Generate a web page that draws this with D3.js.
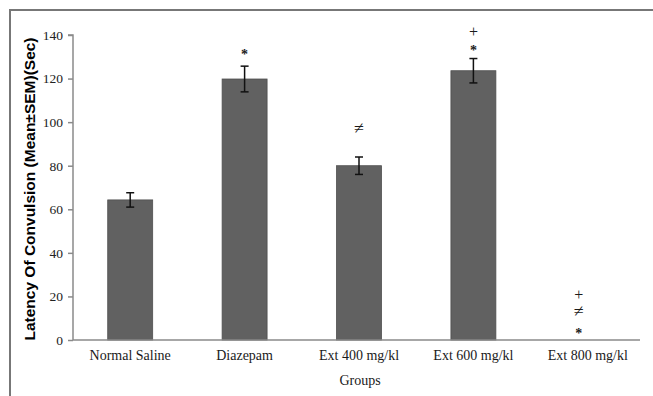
<!DOCTYPE html>
<html>
<head>
<meta charset="utf-8">
<script src="https://cdn.jsdelivr.net/npm/d3@7"></script>
<style>
  body { margin: 0; background: #fff; }
  svg { display: block; }
</style>
</head>
<body>
<div id="chart"></div>
<script>
// data
const groups = ['Normal Saline', 'Diazepam', 'Ext 400 mg/kl', 'Ext 600 mg/kl', 'Ext 800 mg/kl'];
const means = [64.3, 119.8, 80, 123.6, 0];
const sems = [3.3, 5.9, 4, 5.6, 0];
const marks = [[], ['*'], ['≠'], ['+', '*'], ['+', '≠', '*']]; // top to bottom
const yTicks = [0, 20, 40, 60, 80, 100, 120, 140];

const W = 653, H = 396;
const margin = { left: 73, bottom: 56, top: 35, right: 8 };
const serif = '"Liberation Serif", "Times New Roman", serif';

const svg = d3.select('#chart').append('svg')
  .attr('width', W)
  .attr('height', H);

// outer frame (only top + left edges visible)
svg.append('path')
  .attr('d', `M10,${H}V10H${W}`)
  .attr('fill', 'none')
  .attr('stroke', '#777')
  .attr('stroke-width', 2);

const x = d3.scaleBand()
  .domain(groups)
  .range([margin.left, W - margin.right])
  .paddingInner(0.607)
  .paddingOuter(0.3035);

const y = d3.scaleLinear()
  .domain([0, 140])
  .range([H - margin.bottom, margin.top]);

// y axis
const yAxis = svg.append('g')
  .attr('transform', `translate(${margin.left},0)`)
  .call(d3.axisLeft(y).tickValues(yTicks).tickSize(5).tickPadding(5));
yAxis.select('.domain').attr('stroke', '#8a8a8a').attr('stroke-width', 1.5)
  .attr('d', `M-5,${y(140)}H0V${y(0)}`);
yAxis.selectAll('.tick line').attr('stroke', '#8a8a8a').attr('stroke-width', 1.5);
yAxis.selectAll('.tick text')
  .attr('fill', '#222')
  .style('font-family', serif)
  .style('font-size', '13.5px');

// bars
svg.append('g').selectAll('rect')
  .data(groups)
  .join('rect')
  .attr('x', d => x(d))
  .attr('y', (d, i) => y(means[i]))
  .attr('width', x.bandwidth())
  .attr('height', (d, i) => y(0) - y(means[i]))
  .attr('fill', '#616161')
  .attr('stroke', '#4f4f4f')
  .attr('stroke-width', 0.8);

// error bars
const eb = svg.append('g').attr('stroke', '#111').attr('stroke-width', 1.5);
groups.forEach((g, i) => {
  if (!sems[i]) return;
  const cx = x(g) + x.bandwidth() / 2;
  const y1 = y(means[i] + sems[i]), y2 = y(means[i] - sems[i]);
  eb.append('line').attr('x1', cx).attr('x2', cx).attr('y1', y1).attr('y2', y2);
  eb.append('line').attr('x1', cx - 4).attr('x2', cx + 4).attr('y1', y1).attr('y2', y1);
  eb.append('line').attr('x1', cx - 4).attr('x2', cx + 4).attr('y1', y2).attr('y2', y2);
});

// x axis line
svg.append('line')
  .attr('x1', margin.left).attr('x2', 640)
  .attr('y1', y(0)).attr('y2', y(0))
  .attr('stroke', '#8a8a8a')
  .attr('stroke-width', 1.5);

// x tick labels
svg.append('g').selectAll('text')
  .data(groups)
  .join('text')
  .attr('x', d => x(d) + x.bandwidth() / 2)
  .attr('y', 360)
  .attr('text-anchor', 'middle')
  .attr('fill', '#1a1a1a')
  .style('font-family', serif)
  .style('font-size', '14px')
  .text(d => d);

// significance marks, stacked above each bar
const markGap = [0, 0, 0, 14.5, 17];
const markTop = [49, 49, 128, 31, 294];
groups.forEach((g, i) => {
  const cx = x(g) + x.bandwidth() / 2 - (i === 4 ? 9 : 0);
  marks[i].forEach((m, j) => {
    const sz = m === '≠' ? 18 : (m === '+' ? 16 : 14);
    svg.append('text')
      .attr('x', cx)
      .attr('y', markTop[i] + j * markGap[i])
      .attr('dy', m === '*' ? '0.7em' : '0.35em')
      .attr('text-anchor', 'middle')
      .attr('fill', '#1a1a1a')
      .style('font-family', serif)
      .style('font-size', sz + 'px')
      .style('font-weight', m === '*' ? 'bold' : 'normal')
      .text(m);
  });
});

// axis titles
svg.append('text')
  .attr('x', 360)
  .attr('y', 380)
  .attr('dy', '0.35em')
  .attr('text-anchor', 'middle')
  .attr('fill', '#1a1a1a')
  .style('font-family', serif)
  .style('font-size', '14px')
  .text('Groups');

svg.append('text')
  .attr('transform', `translate(30,${(y(0) + 38) / 2}) rotate(-90)`)
  .attr('dy', '0.35em')
  .attr('text-anchor', 'middle')
  .attr('fill', '#000')
  .style('font-family', '"Liberation Sans", Arial, sans-serif')
  .style('font-size', '15.5px')
  .style('font-weight', 'bold')
  .text('Latency Of Convulsion (Mean±SEM)(Sec)');
</script>
</body>
</html>
